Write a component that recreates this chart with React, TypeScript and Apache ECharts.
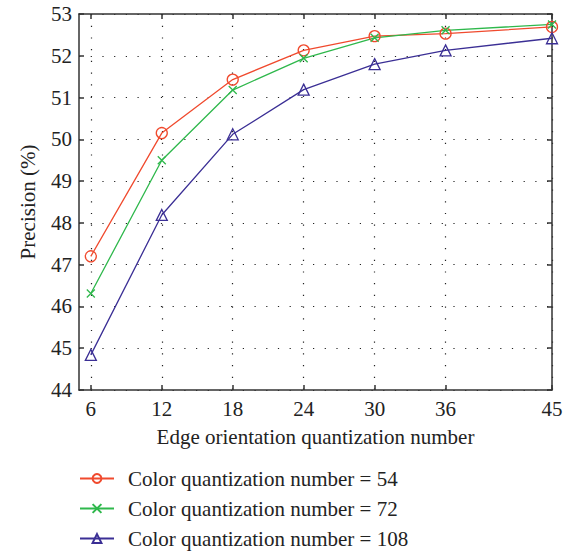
import React, { useEffect, useRef } from "react";
import * as echarts from "echarts";

const xValues = [6, 12, 18, 24, 30, 36, 45];
const xTickLabels = [6, 12, 18, 24, 30, 36, 45];
const series54 = [47.2, 50.15, 51.43, 52.13, 52.47, 52.53, 52.69];
const series72 = [46.31, 49.5, 51.18, 51.94, 52.43, 52.61, 52.75];
const series108 = [44.84, 48.19, 50.12, 51.19, 51.8, 52.13, 52.42];
const seriesNames = [
  "Color quantization number = 54",
  "Color quantization number = 72",
  "Color quantization number = 108",
];

const FONT = "Liberation Serif";
const AXIS_COLOR = "#333";
const FS = 21;

export default function App() {
  const ref = useRef<HTMLDivElement>(null);
  useEffect(() => {
    if (!ref.current) return;
    const chart = echarts.init(ref.current, null, { renderer: "svg" });
    const mk = (vals: number[]) => xValues.map((x, i) => [x, vals[i]]);
    const grid = { left: 79, right: 22, top: 14, bottom: 162 };
    const dotted = { show: true, lineStyle: { color: "#222", type: [1.2, 10.5], width: 1.2 } };
    chart.setOption({
      animation: false,
      backgroundColor: "#fff",
      textStyle: { fontFamily: FONT },
      grid,
      legend: {
        orient: "vertical",
        left: 79,
        top: 468,
        padding: 0,
        itemWidth: 34,
        itemHeight: 11,
        itemGap: 9,
        textStyle: { fontFamily: FONT, fontSize: FS, color: "#222", padding: [0, 0, 0, 9] },
        data: seriesNames,
      },
      xAxis: [
        {
          type: "value",
          min: 5,
          max: 45,
          name: "Edge orientation quantization number",
          nameLocation: "middle",
          nameGap: 36,
          nameTextStyle: { fontFamily: FONT, fontSize: FS, color: "#222" },
          axisLine: { show: true, lineStyle: { color: AXIS_COLOR, width: 1.5 } },
          axisTick: { show: true, inside: true, length: 5, customValues: xValues, lineStyle: { color: AXIS_COLOR, width: 1.5 } },
          axisLabel: { customValues: xTickLabels, fontFamily: FONT, fontSize: FS, color: "#222", margin: 8 },
          splitLine: dotted,
        },
        {
          type: "value",
          position: "top",
          min: 5,
          max: 45,
          axisLine: { show: true, onZero: false, lineStyle: { color: AXIS_COLOR, width: 1.5 } },
          axisTick: { show: true, inside: true, length: 5, customValues: xValues, lineStyle: { color: AXIS_COLOR, width: 1.5 } },
          axisLabel: { show: false },
          splitLine: { show: false },
        },
      ],
      yAxis: [
        {
          type: "value",
          min: 44,
          max: 53,
          interval: 1,
          name: "Precision (%)",
          nameLocation: "middle",
          nameGap: 41,
          nameTextStyle: { fontFamily: FONT, fontSize: FS, color: "#222" },
          axisLine: { show: true, lineStyle: { color: AXIS_COLOR, width: 1.5 } },
          axisTick: { show: true, inside: true, length: 5, lineStyle: { color: AXIS_COLOR, width: 1.5 } },
          axisLabel: { fontFamily: FONT, fontSize: FS, color: "#222", margin: 7 },
          splitLine: dotted,
        },
        {
          type: "value",
          position: "right",
          min: 44,
          max: 53,
          interval: 1,
          axisLine: { show: true, onZero: false, lineStyle: { color: AXIS_COLOR, width: 1.5 } },
          axisTick: { show: true, inside: true, length: 5, lineStyle: { color: AXIS_COLOR, width: 1.5 } },
          axisLabel: { show: false },
          splitLine: { show: false },
        },
      ],
      series: [
        {
          name: seriesNames[0],
          type: "line",
          data: mk(series54),
          symbol: "circle",
          symbolSize: 11,
          lineStyle: { color: "#f04a2e", width: 1.3 },
          itemStyle: { color: "rgba(255,255,255,0)", borderColor: "#f04a2e", borderWidth: 1.3 },
        },
        {
          name: seriesNames[1],
          type: "line",
          data: mk(series72),
          symbol: "path://M0,0L10,10M10,0L0,10",
          symbolSize: 8,
          lineStyle: { color: "#2fb84c", width: 1.3 },
          itemStyle: { color: "rgba(255,255,255,0)", borderColor: "#2fb84c", borderWidth: 1.3 },
        },
        {
          name: seriesNames[2],
          type: "line",
          data: mk(series108),
          symbol: "triangle",
          symbolSize: 11,
          lineStyle: { color: "#3b2f95", width: 1.3 },
          itemStyle: { color: "rgba(255,255,255,0)", borderColor: "#3b2f95", borderWidth: 1.3 },
        },
      ],
    });
    return () => chart.dispose();
  }, []);
  return (
    <div
      ref={ref}
      style={{ position: "fixed", left: 0, top: 0, width: 574, height: 552 }}
    />
  );
}
